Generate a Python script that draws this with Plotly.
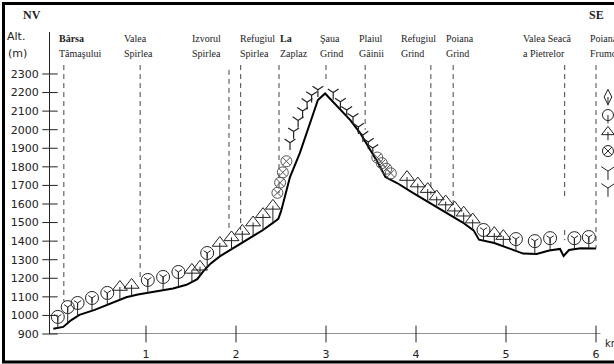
import numpy as np
import plotly.graph_objects as go

# ---------------- data ----------------
terrain_km = [-0.03, 0.08, 0.17, 0.26, 0.43, 0.61, 0.78, 0.91, 1.13, 1.30, 1.45, 1.57, 1.64, 1.72,
              1.82, 2.01, 2.16, 2.30, 2.41, 2.47, 2.50, 2.54, 2.60, 2.71, 2.82, 2.91, 2.99, 3.04,
              3.16, 3.27, 3.38, 3.49, 3.58, 3.66, 3.79, 3.97, 4.16, 4.35, 4.52, 4.64, 4.70, 4.87,
              5.06, 5.19, 5.34, 5.48, 5.60, 5.64, 5.70, 5.83, 6.00]
terrain_alt = [928, 938, 975, 1003, 1030, 1064, 1098, 1113, 1130, 1145, 1165, 1195, 1240, 1280,
               1318, 1375, 1420, 1460, 1498, 1520, 1560, 1638, 1745, 1875, 2036, 2160, 2195, 2170,
               2106, 2052, 1982, 1890, 1820, 1745, 1713, 1659, 1605, 1548, 1500, 1458, 1408, 1390,
               1355, 1333, 1331, 1350, 1358, 1320, 1352, 1362, 1360]

# deciduous trees (beech)
tree_km = [0.02, 0.13, 0.24, 0.40, 0.57, 1.02, 1.19, 1.36, 1.68, 4.75, 5.11, 5.32, 5.49, 5.76, 5.92]
tree_alt = [992, 1045, 1067, 1094, 1121, 1191, 1207, 1234, 1336, 1460, 1411, 1400, 1416, 1416, 1422]

# conifers (spruce)
conifer_km = [0.71, 0.84, 1.51, 1.60, 1.82, 1.95, 2.07, 2.19, 2.30, 2.41,
              3.90, 4.02, 4.13, 4.23, 4.33, 4.43, 4.53, 4.63, 4.87, 4.97]
conifer_alt = [1153, 1164, 1245, 1262, 1390, 1420, 1455, 1500, 1545, 1590,
               1745, 1710, 1680, 1640, 1613, 1580, 1553, 1516, 1443, 1427]

# dwarf pine (jneapăn)
bush_km = [2.46, 2.49, 2.52, 2.56, 3.57, 3.62, 3.67, 3.72]
bush_alt = [1660, 1715, 1770, 1830, 1850, 1820, 1790, 1765]

# alpine meadow
meadow_km = [2.60, 2.64, 2.69, 2.74, 2.79, 2.84, 2.91,
             3.08, 3.16, 3.23, 3.30, 3.36, 3.41, 3.47, 3.52]
meadow_alt = [1930, 1990, 2050, 2100, 2148, 2185, 2215,
              2200, 2150, 2106, 2068, 2015, 1972, 1934, 1901]

# place names
site_top = ["<b>Bârsa</b>", "Valea", "Izvorul", "Refugiul", "<b>La</b>", "Şaua", "Plaiul",
            "Refugiul", "Poiana", "Valea Seacă", "Poiana"]
site_bottom = ["Tămaşului", "Spirlea", "Spirlea", "Spirlea", "Zaplaz", "Grind", "Găinii",
               "Grind", "Grind", "a Pietrelor", "Frumoasă"]
site_label_km = [0.01, 0.73, 1.49, 2.02, 2.47, 2.91, 3.34, 3.81, 4.31, 5.17, 5.91]
site_line_km = [0.087, 0.935, 1.922, 2.052, 2.478, 3.0, 3.435, 4.165, 4.413, 5.652, 6.0]
site_line_top = [2348, 2348, 2322, 2348, 2348, 2348, 2348, 2348, 2348, 2348, 2348]
site_line_bottom = [1075, 1207, 1460, 1460, 1659, 2252, 2000, 1650, 1575, 1625, 1360]
extra_line_km = [5.652]
extra_line_top = [1460]
extra_line_bottom = [1405]

# legend symbols (right side)
legend_alt = [2176, 2079, 1988, 1885, 1777, 1686]
legend_symbols = ["diamond-tall-open", "circle-open", "triangle-up-open",
                  "circle-x-open", "y-down-open", "y-down-open"]

x_ticks = [1, 2, 3, 4, 5, 6]
y_ticks = list(range(900, 2301, 100))
x_range = [-0.0667, 6.2]
y_range = [900, 2526]
axis_end_km = 6.05
legend_km = 6.133

INK = "#222222"
SERIF = "Liberation Serif"
SANS = "DejaVu Sans"

# plot area in pixels (for paper-coordinate helpers)
L, R, T, B = 50, 614, 32, 334


def px(xp):
    return (xp - L) / (R - L)


def py(yp):
    return (B - yp) / (B - T)


fig = go.Figure()

# dashed vertical site lines
for k, t, b in zip(site_line_km + extra_line_km, site_line_top + extra_line_top,
                   site_line_bottom + extra_line_bottom):
    fig.add_trace(go.Scatter(x=[k, k], y=[t, b], mode="lines",
                             line=dict(color="#444444", width=1, dash="5px,4px"),
                             hoverinfo="skip", showlegend=False))

# x axis line
fig.add_trace(go.Scatter(x=[x_range[0], axis_end_km], y=[y_range[0], y_range[0]], mode="lines",
                         cliponaxis=False, line=dict(color=INK, width=1.2), showlegend=False))

# terrain profile
fig.add_trace(go.Scatter(x=terrain_km, y=terrain_alt, mode="lines",
                         line=dict(color="black", width=2), showlegend=False))


def stems(km, alt):
    return list(np.array(alt) - np.interp(km, terrain_km, terrain_alt))


# trees with stems
fig.add_trace(go.Scatter(
    x=tree_km, y=tree_alt, mode="markers", showlegend=False,
    marker=dict(symbol="circle-open", size=13, color=INK, line=dict(width=1, color=INK)),
    error_y=dict(type="data", symmetric=False, array=[0] * len(tree_km),
                 arrayminus=stems(tree_km, tree_alt), width=0, thickness=1, color=INK)))
fig.add_trace(go.Scatter(
    x=tree_km, y=tree_alt, mode="markers", showlegend=False,
    marker=dict(symbol="y-down-open", size=6, color=INK, line=dict(width=1, color=INK))))

# conifers with stems
fig.add_trace(go.Scatter(
    x=conifer_km, y=conifer_alt, mode="markers", showlegend=False,
    marker=dict(symbol="triangle-up-open", size=13, color=INK, line=dict(width=1, color=INK)),
    error_y=dict(type="data", symmetric=False, array=[0] * len(conifer_km),
                 arrayminus=stems(conifer_km, conifer_alt), width=0, thickness=1, color=INK)))

# dwarf pine
fig.add_trace(go.Scatter(
    x=bush_km, y=bush_alt, mode="markers", showlegend=False,
    marker=dict(symbol="circle-x-open", size=11, color="#555555", line=dict(width=1, color="#555555"))))

# meadow
fig.add_trace(go.Scatter(
    x=meadow_km, y=meadow_alt, mode="markers", showlegend=False,
    marker=dict(symbol="y-down-open", size=9, color=INK, line=dict(width=1.2, color=INK))))

# legend column
fig.add_trace(go.Scatter(
    x=[legend_km] * len(legend_alt), y=legend_alt, mode="markers", showlegend=False,
    cliponaxis=False,
    marker=dict(symbol=legend_symbols, size=11, color=INK, line=dict(width=1, color=INK)),
    error_y=dict(type="data", symmetric=False, array=[0] * 6,
                 arrayminus=[45, 45, 45, 0, 0, 0], width=0, thickness=1, color=INK)))

# cross tick marks
fig.add_trace(go.Scatter(
    x=[x_range[0]] * len(y_ticks), y=y_ticks, mode="markers", showlegend=False, cliponaxis=False,
    marker=dict(symbol="line-ew-open", size=11, color=INK, line=dict(width=1, color=INK))))
fig.add_trace(go.Scatter(
    x=x_ticks, y=[y_range[0]] * len(x_ticks), mode="markers", showlegend=False, cliponaxis=False,
    marker=dict(symbol="line-ns-open", size=12, color=INK, line=dict(width=1, color=INK))))

annotations = []
for k, t, b in zip(site_label_km, site_top, site_bottom):
    annotations.append(dict(x=k, y=py(38), xref="x", yref="paper", text=t,
                            showarrow=False, xanchor="left", yanchor="middle",
                            font=dict(family=SERIF, size=10, color=INK)))
    annotations.append(dict(x=k, y=py(53), xref="x", yref="paper", text=b,
                            showarrow=False, xanchor="left", yanchor="middle",
                            font=dict(family=SERIF, size=10, color=INK)))

for txt, xp, yp, fam, sz in [("<b>NV</b>", 21, 15, SERIF, 12), ("<b>SE</b>", 587, 15, SERIF, 12),
                             ("Alt.", 5, 37, SANS, 11), ("(m)", 6, 53, SANS, 11),
                             ("km", 603, 343, SANS, 10)]:
    annotations.append(dict(x=px(xp), y=py(yp), xref="paper", yref="paper",
                            text=txt, showarrow=False, xanchor="left", yanchor="middle",
                            font=dict(family=fam, size=sz, color=INK)))

fig.update_layout(
    width=614, height=364,
    margin=dict(l=L, r=614 - R, t=T, b=364 - B, autoexpand=False),
    paper_bgcolor="white", plot_bgcolor="white",
    showlegend=False,
    annotations=annotations,
    shapes=[dict(type="rect", xref="paper", yref="paper",
                 x0=px(3.5), x1=px(660), y0=py(362), y1=py(3.5),
                 line=dict(color="black", width=3), fillcolor="rgba(0,0,0,0)")],
    xaxis=dict(range=x_range, showline=False, ticks="", automargin=False,
               tickvals=x_ticks, ticktext=[str(v) for v in x_ticks], showgrid=False,
               zeroline=False, ticklabelstandoff=12,
               tickfont=dict(family=SANS, size=11, color=INK)),
    yaxis=dict(range=y_range, showline=True, linecolor=INK, linewidth=1.2, ticks="",
               automargin=False,
               tickvals=y_ticks, showgrid=False, zeroline=False, ticklabelstandoff=8,
               tickfont=dict(family=SANS, size=11, color=INK)),
)

fig.write_html("out.html", config={"displayModeBar": False},
               post_script="document.body.style.margin='0';document.body.style.overflow='hidden';")
